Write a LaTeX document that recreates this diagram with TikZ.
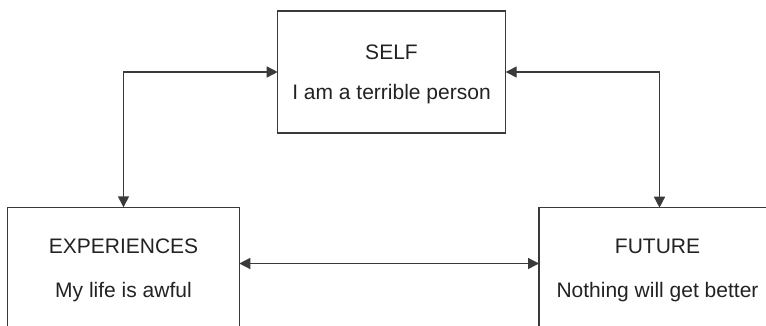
\documentclass[tikz,border=0pt]{standalone}
\usepackage{fontspec}
\setmainfont{Liberation Sans}
\usetikzlibrary{arrows.meta}
\definecolor{linegray}{HTML}{3A3A3A}
\definecolor{textgray}{HTML}{222222}
\begin{document}
\begin{tikzpicture}[x=1pt,y=-1pt,
  box/.style={draw=linegray,line width=1.5pt,fill=none,inner sep=0pt,outer sep=0pt},
  label/.style={anchor=base,inner sep=0pt,text=textgray,font=\fontsize{21}{24}\selectfont},
  link/.style={draw=linegray,line width=1.4pt,{Triangle[length=11pt,width=11pt]}-{Triangle[length=11pt,width=11pt]}}]
  \useasboundingbox (0,0) rectangle (766,325);

  % the three boxes (the lower two run past the page edge)
  \node[box,minimum width=228pt,minimum height=122pt] (self) at (391.7,72) {};
  \node[box,minimum width=231.6pt,minimum height=140pt] (exp) at (123.5,277.3) {};
  \node[box,minimum width=241pt,minimum height=140pt] (fut) at (659.5,277.7) {};

  % box texts
  \node[label] (selft) at (391.5,59.3) {SELF};
  \node[label] (selfs) at (391.5,99.3) {I am a terrible person};
  \node[label] (expt) at (123.5,253.3) {EXPERIENCES};
  \node[label] (exps) at (123.5,297.5) {My life is awful};
  \node[label] (futt) at (657.5,253.3) {FUTURE};
  \node[label] (futs) at (657.5,297.5) {Nothing will get better};

  % connectors
  \coordinate (midrow) at (0,263.5);
  \draw[link] (exp.north) |- (self.west);
  \draw[link] (fut.north) |- (self.east);
  \draw[link] (exp.east |- midrow) -- (fut.west |- midrow);
\end{tikzpicture}
\end{document}
